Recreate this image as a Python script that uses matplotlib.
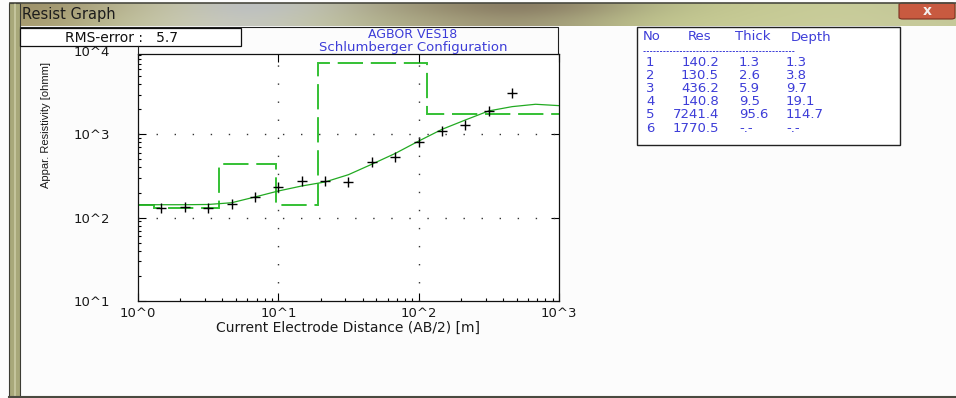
import numpy as np
import matplotlib.pyplot as plt
from matplotlib.patches import Rectangle, FancyBboxPatch
from matplotlib.lines import Line2D
from matplotlib.colors import to_rgb

W, H = 956, 398

# measured sounding: AB/2 [m] and apparent resistivity [ohmm]
ab2 = [1.47, 2.15, 3.16, 4.64, 6.81, 10.0, 14.7, 21.5, 31.6, 46.4, 68.1,
       100, 147, 215, 316, 464]
rho_obs = [131, 134, 131, 144, 177, 234, 276, 276, 268, 460, 533,
           815, 1105, 1295, 1910, 3120]

# calculated response of the layered model
ab2_calc = [1.0, 1.47, 2.15, 3.16, 4.64, 6.81, 10.0, 14.7, 21.5, 31.6, 46.4,
            68.1, 100, 147, 215, 316, 464, 681, 1000]
rho_calc = [143, 143, 143, 144, 151, 177, 209, 240, 268, 328, 438,
            590, 830, 1150, 1486, 1910, 2150, 2295, 2210]

# layer model
layer_no = [1, 2, 3, 4, 5, 6]
layer_res = [140.2, 130.5, 436.2, 140.8, 7241.4, 1770.5]
layer_thick = [1.3, 2.6, 5.9, 9.5, 95.6]
layer_depth = [1.3, 3.8, 9.7, 19.1, 114.7]

rms_error = 5.7
site = "AGBOR VES18"
config = "Schlumberger Configuration"

x_ticks = [1, 10, 100, 1000]
x_ticklabels = ["10^0", "10^1", "10^2", "10^3"]
y_ticks = [10, 100, 1000]
y_ticklabels = ["10^1", "10^2", "10^3"]

BLUE = "#3d3dd8"
FONT = "DejaVu Sans"
FS = 9.5


def fx(x):
    return x / W


def fy(y):
    return 1 - y / H


fig = plt.figure(figsize=(W / 100, H / 100), dpi=100)
fig.patch.set_facecolor("#fcfcfc")

# window title bar
bar = fig.add_axes([fx(10), fy(26), fx(W - 10), 23 / H])
stops_top = ["#9c9068", "#b4b08c", "#c6c6aa", "#b9bdc8", "#c2c4b2", "#a8a486",
             "#948a6c", "#847660", "#968c6e", "#b4b888", "#c2c690", "#c6ca96",
             "#c8cc9a", "#c2c698"]
stops_bot = ["#a89c70", "#bcbc94", "#cacab0", "#c4c6c4", "#c4c6aa", "#b2b28e",
             "#a6a07e", "#9c9474", "#aaa880", "#c0c48e", "#c6ca94", "#c8cc98",
             "#cacd9c", "#c6c99a"]
grad = np.array([[to_rgb(c) for c in stops_top],
                 [to_rgb(c) for c in stops_bot]])
bar.imshow(grad, aspect="auto", interpolation="bicubic", extent=(0, 1, 0, 1))
bar.set_axis_off()

fig.add_artist(Line2D([fx(10), 1], [fy(3), fy(3)], color="#4a4a40", lw=1.2))
fig.text(fx(22), fy(15), "Resist Graph", fontsize=10.5, family=FONT,
         color="#1c1c1c", va="center", ha="left")

# close button
close = FancyBboxPatch((fx(899), fy(19)), fx(56), 16 / H,
                       boxstyle="round,pad=0,rounding_size=0.004",
                       transform=fig.transFigure, facecolor="#c85a40",
                       edgecolor="#7a3020", lw=0.8)
fig.add_artist(close)
fig.text(fx(927), fy(11), "x", fontsize=10, weight="bold", family=FONT,
         color="#f4f0ee", ha="center", va="center")

# window left border and bottom edge
fig.add_artist(Rectangle((fx(9), 0), fx(11), fy(3), transform=fig.transFigure,
                         facecolor="#a8a87a", edgecolor="#3c3c34", lw=0.8))
fig.add_artist(Rectangle((fx(14), 0), fx(2), fy(3), transform=fig.transFigure,
                         facecolor="#c4c49c", edgecolor="none"))
fig.add_artist(Line2D([fx(9), 1], [fy(397), fy(397)], color="#4a4a40", lw=1.5))

# graph panel frame
fig.add_artist(Line2D([fx(20), fx(558), fx(558)], [fy(27), fy(27), fy(54)],
                      color="#202020", lw=0.8))
fig.add_artist(Rectangle((fx(20), fy(46)), fx(221), 18 / H,
                         transform=fig.transFigure, facecolor="white",
                         edgecolor="#101010", lw=0.9))
fig.text(fx(121), fy(38), f"RMS-error :   {rms_error}", fontsize=10,
         family=FONT, ha="center", va="center", color="#111111")
fig.add_artist(Line2D([fx(138), fx(138)], [fy(46), fy(54)], color="#202020",
                      lw=0.8))

fig.text(fx(413), fy(34), site, fontsize=9, family=FONT, color=BLUE,
         ha="center", va="center")
fig.text(fx(413), fy(47), config, fontsize=9.5, family=FONT, color=BLUE,
         ha="center", va="center")

# sounding curve axes
ax = fig.add_axes([fx(138), fy(301), fx(421), 247 / H])
ax.set_facecolor("white")
ax.set_xscale("log")
ax.set_yscale("log")
ax.set_xlim(1, 1000)
ax.set_ylim(10, 10 ** (4 - 3 / 83.3))

edges = [1.0] + layer_depth + [1000.0]
ax.stairs(layer_res, edges, baseline=None, color="#34c034", lw=1.4,
          linestyle=(0, (13, 4)))
ax.plot(ab2_calc, rho_calc, color="#22aa22", lw=0.9)
ax.plot(ab2, rho_obs, linestyle="none", marker="+", markersize=7,
        markeredgewidth=1.0, color="black")

for xv in [10, 100]:
    ax.axvline(xv, color="#333333", lw=1.0, linestyle=(0, (1, 12)))
for yv in [100, 1000]:
    ax.axhline(yv, color="#333333", lw=1.0, linestyle=(0, (1, 12)))

ax.set_xticks(x_ticks)
ax.set_xticklabels(x_ticklabels)
ax.set_yticks(y_ticks)
ax.set_yticklabels(y_ticklabels)
ax.tick_params(which="major", direction="in", length=6, width=0.8,
               top=True, right=True, labelsize=FS)
ax.tick_params(which="minor", direction="in", length=2.5, width=0.8,
               top=False, right=False)
ax.tick_params(axis="x", pad=4)
ax.tick_params(axis="y", pad=20)
for lab in ax.get_xticklabels() + ax.get_yticklabels():
    lab.set_family(FONT)
    lab.set_color("#1a1a1a")
for s in ax.spines.values():
    s.set_linewidth(0.9)
    s.set_color("#111111")

# top decade label sits just under the RMS box
fig.text(fx(110), fy(53), "10^4", ha="right", va="center", fontsize=FS,
         family=FONT, color="#1a1a1a")

ax.set_xlabel("Current Electrode Distance (AB/2) [m]", fontsize=10,
              family=FONT, color="#1a1a1a", labelpad=1)
fig.text(fx(46), fy(125), "Appar. Resistivity [ohmm]", fontsize=8,
         rotation=90, ha="center", va="center", color="#1a1a1a",
         family=["Liberation Sans Narrow", "Liberation Sans"])

# layer table
fig.add_artist(Rectangle((fx(637), fy(145)), fx(263), 118 / H,
                         transform=fig.transFigure, facecolor="white",
                         edgecolor="#222222", lw=1.0))
header_x = {"No": 643, "Res": 688, "Thick": 735, "Depth": 791}
for name, xh in header_x.items():
    fig.text(fx(xh), fy(37), name, fontsize=FS, family=FONT, color=BLUE,
             va="center", ha="left")
fig.add_artist(Line2D([fx(643), fx(794)], [fy(50.5), fy(50.5)], color=BLUE,
                      lw=0.7, linestyle=(0, (2.2, 1.2))))
row_y = [62.5, 75.5, 89, 101.5, 115, 128]
for i, n in enumerate(layer_no):
    fig.text(fx(646), fy(row_y[i]), str(n), fontsize=FS, family=FONT,
             color=BLUE, va="center", ha="left")
    fig.text(fx(719), fy(row_y[i]), f"{layer_res[i]:.1f}", fontsize=FS,
             family=FONT, color=BLUE, va="center", ha="right")
    if i < len(layer_thick):
        thick = f"{layer_thick[i]:.1f}"
        depth = f"{layer_depth[i]:.1f}"
    else:
        thick = depth = "-.-"
    fig.text(fx(739), fy(row_y[i]), thick, fontsize=FS, family=FONT,
             color=BLUE, va="center", ha="left")
    fig.text(fx(786), fy(row_y[i]), depth, fontsize=FS, family=FONT,
             color=BLUE, va="center", ha="left")

fig.savefig("out.png", dpi=100, facecolor=fig.get_facecolor())
